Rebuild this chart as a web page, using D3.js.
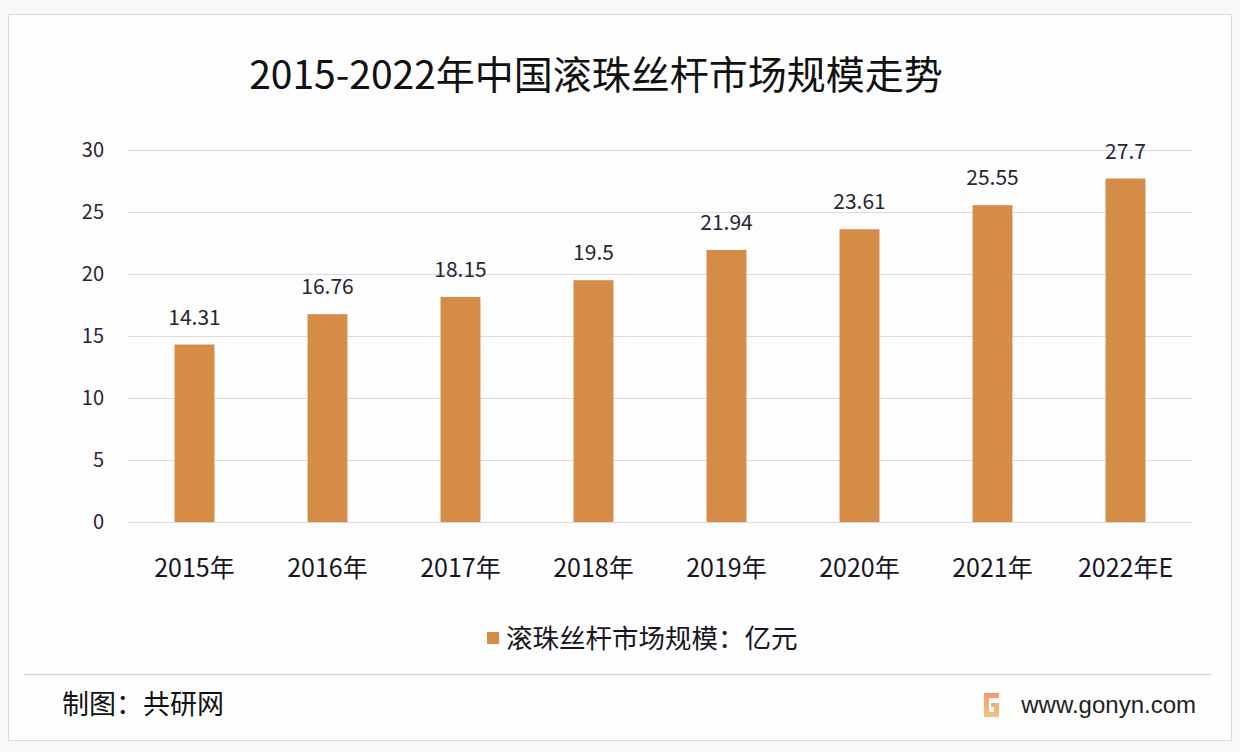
<!DOCTYPE html>
<html><head><meta charset="utf-8">
<script src="https://cdn.jsdelivr.net/npm/d3@7"></script>
<style>body{margin:0;background:#fff;}svg{display:block;font-family:"Noto Sans CJK SC","Noto Sans",sans-serif;}</style>
</head><body>
<svg id="c" width="1240" height="752"></svg>
<script>
const categories = ["2015年","2016年","2017年","2018年","2019年","2020年","2021年","2022年E"];
const values = [14.31,16.76,18.15,19.5,21.94,23.61,25.55,27.7];
const valueLabels = ["14.31","16.76","18.15","19.5","21.94","23.61","25.55","27.7"];
const yTicks = [0,5,10,15,20,25,30];
const title = "2015-2022年中国滚珠丝杆市场规模走势";
const seriesName = "滚珠丝杆市场规模：亿元";

const svg = d3.select("#c");
svg.append("rect").attr("x",0).attr("y",0).attr("width",1240).attr("height",752).attr("fill","#f7f8fa");
svg.append("rect").attr("x",8.5).attr("y",14.5).attr("width",1223).attr("height",726).attr("fill","#fdfdfe").attr("stroke","#d9dce2");

svg.append("text").attr("x",596).attr("y",89).attr("text-anchor","middle")
  .attr("font-size",39).attr("fill","#111").text(title);

const x = d3.scaleBand().domain(categories).range([128,1192]).paddingInner(0.7).paddingOuter(0.35);
const y = d3.scaleLinear().domain([0,30]).range([522,150]);

svg.append("g").selectAll("line").data(yTicks).join("line")
  .attr("x1",128).attr("x2",1192).attr("y1",d=>y(d)+0.5).attr("y2",d=>y(d)+0.5)
  .attr("stroke","#d9d9df").attr("stroke-width",1.2);

svg.append("g").selectAll("text").data(yTicks).join("text")
  .attr("x",104).attr("y",d=>y(d)+7).attr("text-anchor","end")
  .attr("font-size",20).attr("fill","#2a2433").text(d=>d);

svg.append("g").selectAll("rect").data(values).join("rect")
  .attr("x",(d,i)=>x(categories[i])).attr("width",x.bandwidth())
  .attr("y",d=>y(d)).attr("height",d=>y(0)-y(d)).attr("fill","#d58c47");

svg.append("g").selectAll("text").data(values).join("text")
  .attr("x",(d,i)=>x(categories[i])+x.bandwidth()/2).attr("y",d=>y(d)-20)
  .attr("text-anchor","middle").attr("font-size",21).attr("fill","#2a2433")
  .text((d,i)=>valueLabels[i]);

svg.append("g").selectAll("text").data(categories).join("text")
  .attr("x",d=>x(d)+x.bandwidth()/2).attr("y",577).attr("text-anchor","middle")
  .attr("font-size",25).attr("fill","#1a1522").text(d=>d);

svg.append("rect").attr("x",487).attr("y",632).attr("width",12).attr("height",12).attr("fill","#d58c47");
svg.append("text").attr("x",506).attr("y",648).attr("font-size",26.5).attr("fill","#1a1522").text(seriesName);

svg.append("line").attr("x1",24).attr("x2",1211).attr("y1",674.5).attr("y2",674.5).attr("stroke","#d3d6dc").attr("stroke-width",1.5);
svg.append("text").attr("x",62).attr("y",714).attr("font-size",27).attr("fill","#111").text("制图：共研网");

const grad = svg.append("defs").append("linearGradient").attr("id","lg").attr("x1",0).attr("y1",0).attr("x2",0).attr("y2",1);
grad.append("stop").attr("offset",0).attr("stop-color","#f59a6a");
grad.append("stop").attr("offset",1).attr("stop-color","#f2c08a");
const lg = svg.append("g").attr("transform","translate(984,693)");
lg.append("path").attr("d","M0,0 H15 V5 H5 V19 H10 V14 H7 V10 H15 V24 H0 Z").attr("fill","url(#lg)");
svg.append("text").attr("x",1196).attr("y",713).attr("text-anchor","end").attr("font-size",24).attr("fill","#222").attr("font-family","'Liberation Sans',Arial,sans-serif").text("www.gonyn.com");
</script>
</body></html>
